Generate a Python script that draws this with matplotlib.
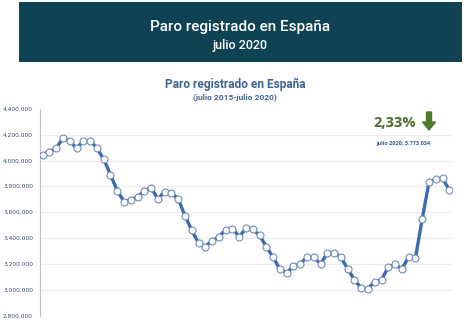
import numpy as np
import matplotlib
matplotlib.use("Agg")
import matplotlib.pyplot as plt
from matplotlib.patches import Rectangle, FancyArrow

# paro registrado mensual, julio 2015 - julio 2020
paro = [4046276, 4067955, 4094042, 4176369, 4149298, 4093508,
        4150710, 4152986, 4094770, 4011171, 3891403, 3767054,
        3683061, 3697496, 3720297, 3764982, 3789823, 3702974,
        3760231, 3750876, 3702317, 3573036, 3461128, 3362811,
        3335924, 3382324, 3410182, 3467026, 3474281, 3412781,
        3476528, 3470248, 3422551, 3335868, 3252130, 3162162,
        3135021, 3182068, 3202509, 3254703, 3252867, 3202297,
        3285761, 3289040, 3255084, 3163566, 3079491, 3015686,
        3011433, 3065804, 3079711, 3177659, 3198184, 3163605,
        3253853, 3246047, 3548312, 3831203, 3857776, 3862883,
        3773034]
yticks = [2800000, 3000000, 3200000, 3400000, 3600000, 3800000, 4000000, 4200000, 4400000]
variacion = "2,33%"
ultimo = "julio 2020; 3.773.034"

W, H = 474, 326
fig = plt.figure(figsize=(W/100, H/100), dpi=100)
fig.patch.set_facecolor('white')

# cabecera
fig.add_artist(Rectangle((19/W, 1-62/H), 443/W, 60/H, transform=fig.transFigure,
                         facecolor='#0f4353', edgecolor='none'))
fig.text(240/W, 1-27/H, "Paro registrado en España", color='white', fontsize=11,
         fontweight='medium', family='Roboto', ha='center', va='center')
fig.text(240/W, 1-46/H, "julio 2020", color='white', fontsize=9, fontweight='medium',
         family='Roboto', ha='center', va='center')

# titulo del grafico
fig.text(235/W, 1-84/H, "Paro registrado en España", color='#41648f', fontsize=8.6,
         fontweight='bold', family='Roboto', ha='center', va='center')
fig.text(235/W, 1-97/H, "(julio 2015-julio 2020)", color='#41648f', fontsize=6,
         fontweight='bold', family='Roboto', ha='center', va='center')

ax = fig.add_axes([40/W, 10/H, 412/W, 207.3/H])
x = np.arange(len(paro))
for t in yticks[1:-1]:
    ax.axhline(t, color='#ececec', lw=0.8, zorder=0)
ax.plot(x, paro, color='#3c6ab0', lw=2.4, marker='o', ms=5,
        mfc='white', mec='#6f8cb8', mew=0.8, zorder=3)

ax.set_xlim(-0.4, 60.4)
ax.set_ylim(2800000, 4400000)
ax.set_xticks([])
ax.set_yticks(yticks)
ax.set_yticklabels([f"{t:,}".replace(",", ".") for t in yticks], fontsize=4.2, color='#3a4a6a')
ax.tick_params(axis='y', length=0, pad=5)
for s in ['top', 'right', 'bottom']:
    ax.spines[s].set_visible(False)
ax.spines['left'].set_color('#bfbfbf')
ax.spines['left'].set_linewidth(0.8)
ax.set_facecolor('none')

# anotacion
fig.text(395/W, 1-123/H, variacion, color='#4d6b2a', fontsize=10.5, fontweight='bold',
         family='Open Sans', ha='center', va='center')
fig.add_artist(FancyArrow(429/W, 1-112/H, 0, -18/H, width=5/W, head_width=13/W,
                          head_length=8/H, length_includes_head=True,
                          transform=fig.transFigure, color='#4a7a28'))
fig.text(403/W, 1-144/H, ultimo, color='#3a5a8f', fontsize=4, fontweight='bold',
         family='Open Sans', ha='center', va='center')

fig.savefig('out.png', dpi=100)
